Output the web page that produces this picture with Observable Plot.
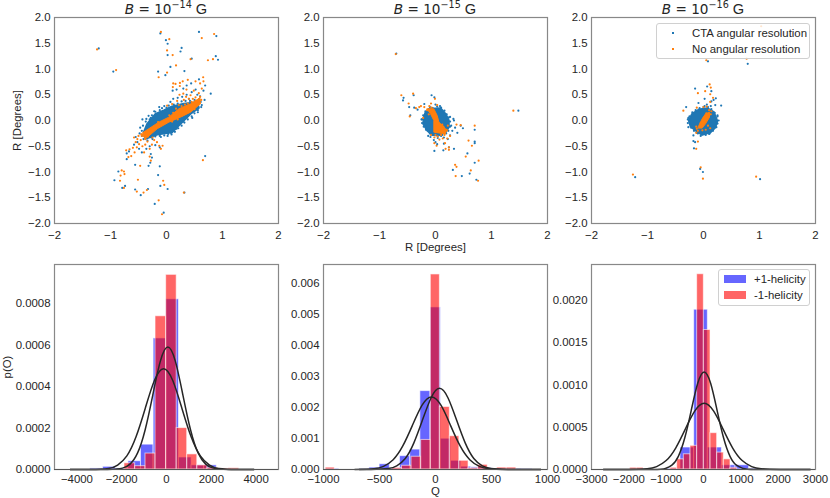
<!DOCTYPE html>
<html>
<head>
<meta charset="utf-8">
<script src="https://cdn.jsdelivr.net/npm/d3@7"></script>
<script src="https://cdn.jsdelivr.net/npm/@observablehq/plot@0.6"></script>
<style>
  body { margin: 0; background: white; font-family: "Liberation Sans", Arial, sans-serif; color: #262626; }
  #page { position: relative; width: 830px; height: 498px; overflow: hidden; }
  #page svg { position: absolute; overflow: visible; background: transparent; }
  .title { position: absolute; top: 0px; width: 224px; text-align: center; font-size: 14.6px; line-height: 18px; white-space: nowrap; }
  .title .m { font-family: "DejaVu Sans"; font-size: 13.6px; }
  .title sup { font-size: 9.6px; line-height: 0; }
  .legend { position: absolute; box-sizing: border-box; background: rgba(255,255,255,0.8); border: 1px solid #d0d0d0; border-radius: 3px; font-size: 11.4px; }
  .legend div { position: absolute; white-space: nowrap; line-height: 14px; }
  .legend span { position: absolute; }
</style>
</head>
<body>
<div id="page"></div>
<script>
// scatter panels: [x, y], dense cores kept as outlines
const ctaCore14 = [[-0.405,-0.227],[-0.345,-0.065],[-0.196,0.13],[-0.048,0.194],[0.1,0.272],[0.31,0.324],[0.548,0.355],[0.578,0.246],[0.43,0.13],[0.25,-0.065],[0.1,-0.227],[-0.167,-0.272],[-0.375,-0.356]];
const noresCore14 = [[-0.435,-0.245],[-0.137,-0.032],[0.042,0.065],[0.22,0.227],[0.43,0.324],[0.596,0.44],[0.607,0.324],[0.43,0.162],[0.25,0.065],[0.042,-0.032],[-0.167,-0.162],[-0.375,-0.356]];
const cta14 = [[-1.21,1.4],[-0.95,0.95],[0.58,1.72],[-0.11,1.69],[-0.01,1.56],[0.02,1.49],[0.02,1.27],[0.27,1.41],[0.25,1.34],[0.45,1.2],[0.89,1.64],[0.88,1.25],[0.92,1.18],[0.07,1.04],[-0.02,0.88],[-0.15,0.95],[0.32,0.96],[0.79,0.52],[0.69,0.68],[0.69,-0.69],[0.32,-1.4],[-0.05,-1.79],[-0.21,-1.62],[0.02,-1.33],[-0.11,-1.27],[-0.33,-1.33],[-0.46,-1.45],[-0.56,-1.34],[-0.74,-1.27],[-0.79,-1.31],[-0.86,-0.99],[-0.93,-1.16],[-0.12,-0.89],[-0.15,-1.06],[-0.56,-0.86],[-0.32,-0.88],[-0.29,-0.82],[-0.26,-0.72],[-0.28,-0.65],[-0.71,-0.75],[-0.71,-0.64],[-0.67,-0.6],[-0.58,-0.47],[-0.52,-0.42],[-0.49,-0.55],[-0.44,-0.62],[-0.36,-0.55],[-0.3,-0.5],[-0.2,-0.48],[-0.12,-0.52],[-0.55,-0.32],[-0.48,-0.25],[-0.28,0.05],[-0.22,0.18],[-0.13,0.26],[-0.04,0.28],[0.07,0.36],[0.12,0.42],[0.2,0.44],[0.28,0.46],[0.36,0.5],[0.45,0.55],[0.52,0.6],[0.58,0.8],[0.44,0.72],[0.36,0.68],[0.3,0.62],[0.18,0.6],[0.11,0.58],[0.6,0.47],[0.63,0.3],[0.56,0.16],[0.46,0.05],[0.39,0.1],[0.3,-0.02],[0.18,-0.16],[0.08,-0.24],[0.02,-0.3],[-0.1,-0.32],[-0.25,-0.36],[0.55,0.5],[0.66,0.58],[0.4,0.42],[-0.43,0.02],[-0.36,0.03],[-0.32,0.09],[-0.47,-0.14],[0.68,0.4],
  [-0.44,-0.2],[-0.42,-0.1],[-0.37,-0.02],[-0.3,0.02],[-0.26,0.1],[-0.2,0.17],[-0.12,0.2],[-0.08,0.24],[0,0.25],[0.04,0.29],[0.13,0.31],[0.2,0.33],[0.27,0.37],[0.34,0.38],[0.42,0.38],[0.5,0.4],[0.58,0.41],[0.61,0.36],[0.62,0.26],[0.56,0.2],[0.5,0.14],[0.45,0.08],[0.38,0.02],[0.32,-0.04],[0.27,-0.1],[0.21,-0.15],[0.15,-0.22],[0.09,-0.27],[0.03,-0.26],[-0.04,-0.29],[-0.12,-0.3],[-0.2,-0.31],[-0.27,-0.33],[-0.34,-0.39],[-0.41,-0.36],[-0.44,-0.3]];
const nores14 = [[-1.24,1.38],[-0.9,0.98],[-0.1,1.72],[0.05,1.58],[0.01,1.36],[0.11,1.27],[0.17,1.07],[0.63,1.6],[0.85,1.68],[0.74,1.17],[0.83,1.19],[0.43,1.19],[0.01,0.93],[-0.14,0.84],[0.65,-0.77],[0.31,-1.4],[-0.08,-1.82],[-0.14,-1.55],[-0.06,-1.17],[-0.04,-1.25],[-0.35,-1.35],[-0.41,-1.4],[-0.53,-1.38],[-0.76,-1.31],[-0.8,-0.97],[-0.76,-0.99],[-0.75,-1.04],[-0.82,-1.07],[-0.83,-1.17],[-0.47,-0.88],[-0.51,-1.15],[0.655,0.84],[0.518,0.76],[0.38,0.79],[0.29,0.76],[0.161,0.71],[0.113,0.65],[0.238,0.67],[0.357,0.6],[0.488,0.58],[0.577,0.53],[0.429,0.49],[0.232,0.5],[0.1,0.32],[0.012,0.29],[0.19,0.38],[0.31,0.4],[0.4,0.42],[0.518,0.45],[0.63,0.62],[0.6,0.72],[0.66,0.76],[0.3,0.52],[0.12,0.72],[0.24,0.73],[-0.68,-0.71],[-0.63,-0.69],[-0.72,-0.58],[-0.66,-0.56],[-0.6,-0.53],[-0.57,-0.62],[-0.53,-0.52],[-0.49,-0.46],[-0.46,-0.38],[-0.52,-0.36],[-0.43,-0.5],[-0.38,-0.47],[-0.34,-0.41],[-0.3,-0.55],[-0.26,-0.47],[-0.22,-0.38],[-0.17,-0.42],[-0.13,-0.49],[-0.1,-0.55],[-0.07,-0.49],[-0.55,-0.42],[-0.44,-0.3],[-0.4,-0.62],[-0.3,-0.7],[-0.28,-0.78],[-0.58,-0.33],[-0.5,-0.3],[0.45,0.36],[0.52,0.38],[0.6,0.46],[0.22,0.3],[0.35,0.46],[-0.25,-0.33],
  [-0.4,-0.3],[-0.36,-0.25],[-0.3,-0.2],[-0.45,-0.27],[-0.38,-0.36],[-0.33,-0.31],[-0.22,-0.12],[-0.15,-0.03],[0.05,0.1],[0.12,0.15],[0.17,0.23],[0.27,0.28],[0.33,0.31],[0.5,0.33],[0.55,0.3],[0.58,0.36],[0.62,0.4],[0.47,0.42],[0.38,0.33],[0.1,-0.02],[0.28,0.1],[0.2,0.02],[0.5,0.22]];

const ctaCore15 = [[-0.208,0.064],[-0.179,0.16],[-0.089,0.227],[0.089,0.24],[0.179,0.13],[0.238,0],[0.238,-0.13],[0.179,-0.227],[0.06,-0.29],[-0.06,-0.28],[-0.149,-0.194],[-0.22,-0.064]];
const noresCore15 = [[-0.149,0.227],[-0.03,0.227],[0.03,0.097],[0.06,-0.03],[0.18,-0.16],[0.18,-0.26],[-0.03,-0.227],[-0.03,0],[-0.089,0.13]];
const cta15 = [[-0.7,1.3],[-0.07,0.49],[-0.02,0.45],[-0.39,0.49],[-0.57,0.44],[-0.58,0.39],[-0.47,0.26],[-0.45,0.1],[-0.38,0.25],[-0.32,0.21],[-0.2,0.32],[1.48,0.19],[0.32,0.03],[0.35,-0.14],[0.45,-0.1],[0.49,-0.15],[0.39,-0.24],[0.7,-0.18],[0.7,-0.41],[0.7,-0.44],[0.57,-0.64],[0.7,-0.82],[0.31,-0.96],[0.47,-1.08],[0.61,-1.03],[0.73,-1.15],[-0.02,-0.59],[0.14,-0.58],[0.24,-0.52],[0.33,-0.55],[0.15,-0.45],[0,-0.42],[-0.09,-0.32],[0.04,-0.34],[0.1,-0.3],[0.15,-0.33],[0.26,-0.29],[0.33,0],[0,0.31],[-0.25,0.02],[-0.1,0.26],[0.28,-0.1],[0.3,-0.2],[0.22,-0.36],[-0.03,-0.38],[0.03,-0.46],[-0.13,-0.3],[0.08,0.28],[0.26,0.07],
  [-0.22,0.1],[-0.18,0.18],[-0.12,0.22],[-0.05,0.24],[0.03,0.27],[0.1,0.25],[0.16,0.19],[0.2,0.12],[0.24,0.06],[0.26,-0.02],[0.26,-0.12],[0.23,-0.2],[0.19,-0.25],[0.12,-0.28],[-0.1,-0.25],[-0.17,-0.18],[-0.21,-0.12],[-0.24,-0.05],[-0.24,0.02]];
const nores15 = [[-0.71,1.29],[-0.61,0.49],[-0.4,0.52],[-0.01,0.42],[-0.48,0.33],[-0.46,0.08],[-0.35,0.24],[-0.29,0.26],[-0.26,0.28],[1.39,0.19],[0.375,-0.08],[0.45,-0.09],[0.7,-0.1],[0.59,-0.39],[0.65,-0.49],[0.54,-0.7],[0.77,-0.78],[0.35,-0.86],[0.375,-0.9],[0.63,-0.97],[0.36,-1.08],[0.76,-1.17],[0.24,-0.57],[0.18,-0.55],[0.02,-0.49],[-0.02,-0.44],[0.17,-0.44],[0.24,-0.52],[0.07,-0.37],[0.13,-0.35],[0.16,-0.28],[0.04,-0.31],[-0.02,-0.33],[-0.08,-0.28],[0.2,-0.2],[0.12,-0.08],[0.26,-0.3],[-0.11,0.28],[-0.07,0.25],[-0.2,0.26],[-0.22,0.05],[-0.08,0.33],[0.03,0.3],[0.15,-0.2],[0.21,-0.35],
  [-0.12,0.2],[-0.06,0.16],[-0.12,0.12],[0,0.1],[-0.15,0.2],[0.03,0.03],[0.02,-0.1],[0.08,-0.22],[0.14,-0.12],[0.2,-0.18],[0.22,-0.1],[0.1,-0.28],[0,-0.28]];

const ctaCore16 = [[-0.262,0],[-0.202,0.13],[-0.083,0.214],[0.065,0.24],[0.185,0.162],[0.244,0],[0.214,-0.13],[0.125,-0.227],[-0.024,-0.28],[-0.143,-0.194],[-0.232,-0.11]];
const noresCore16 = [[-0.083,-0.097],[-0.024,0.032],[0.036,0.13],[0.107,0.162],[0.107,0.064],[0.036,-0.064],[-0.024,-0.148],[-0.096,-0.148]];
const cta16 = [[0.08,1.15],[0.79,1.1],[-0.15,0.62],[0.065,0.66],[0.14,0.57],[0.315,0.29],[-0.31,0.26],[-0.09,0.34],[0.02,0.42],[0.18,0.4],[0.13,0.28],[0.06,0.31],[-0.27,-0.13],[-0.18,-0.29],[-0.18,-0.4],[-0.15,-0.42],[-0.17,-0.54],[-0.06,-0.94],[-0.01,-1],[-1.22,-1.1],[1.01,-1.14],[0.19,-0.13],[0.24,-0.03],[0.25,0.1],[0.21,0.3],[0.22,0.43],[0.14,0.37],[0.02,0.28],[-0.27,0.05],[-0.1,-0.25],[0,-0.26],[0.1,-0.26],[-0.28,-0.05],
  [-0.28,0.02],[-0.25,0.08],[-0.2,0.16],[-0.14,0.2],[-0.07,0.24],[0,0.26],[0.08,0.26],[0.14,0.22],[0.2,0.15],[0.25,0.08],[0.27,0],[0.25,-0.06],[0.23,-0.13],[0.17,-0.2],[0.11,-0.25],[0.04,-0.28],[-0.05,-0.3],[-0.12,-0.24],[-0.17,-0.2],[-0.22,-0.14]];
const nores16 = [[0.05,1.17],[0.77,1.2],[1.03,1.83],[0.11,0.7],[0.13,0.64],[0.03,0.57],[-0.1,0.53],[0.12,0.51],[0.17,0.44],[0.12,0.36],[0.06,0.27],[0,0.26],[-0.36,0.19],[-0.12,0.25],[-0.13,-0.24],[-0.1,-0.41],[-0.13,-0.55],[-0.05,-0.91],[-0.01,-1.13],[-1.26,-1.05],[0.94,-1.09],[-0.1,-0.2],[-0.02,-0.19],[0.04,-0.18],[0.12,-0.15],
  [0.14,0.18],[0.1,0.2],[0.05,0.14],[0,0.04],[-0.05,-0.05],[-0.13,-0.12],[-0.12,-0.16],[0.13,0.12],[0.08,-0.1]];

// histogram bins: edges and heights per panel
const qEdgesPlus14 = [-3400,-2830,-2265,-1700,-1140,-575,-10,555,1120,1680,2245];
const qPlus14 = [0.000005,0.000013,0.000005,0.00004,0.00012,0.000633,0.000822,0.000058,0.00002,0.00002];
const qEdgesMinus14 = [-1875,-1400,-937,-490,-15,455,925,1375,1830,2300,2770,3240];
const qMinus14 = [0.00003,0.000016,0.000077,0.00074,0.00094,0.0002,0.000073,0.00002,0.000008,0.000005,0.000006];

const qEdgesPlus15 = [-980,-860,-681,-590,-499,-408,-317,-226,-135,-44,47,138,229,320,411,502,593,684,775,866];
const qPlus15 = [0.00002,0,0.00001,0.00006,0.00017,0.00003,0.00043,0.00064,0.00252,0.00521,0.00099,0.00028,0.00009,0.00007,0.00005,0.00003,0.00002,0.00002,0.00001];
const qEdgesMinus15 = [-980,-900,-385,-300,-214,-128,-42,39,128,213,295,381,466,551,636,721];
const qMinus15 = [0.00006,0,0.00005,0.00012,0.00041,0.00095,0.00627,0.00201,0.00107,0.00028,0.00004,0.00015,0.00001,0.00006,0.00006];

const qEdgesPlus16 = [-982,-616,-250,116,491,857,1223,1589];
const qPlus16 = [0.00001,0.00026,0.00189,0.00026,0.00005,0.00005,0.00001];
const qEdgesMinus16 = [-1964,-1786,-1607,-884,-705,-527,-348,-170,9,188,366,545,723,902];
const qMinus16 = [0.00002,0.00002,0,0.00002,0.00012,0.00018,0.00028,0.00231,0.00165,0.00043,0.0002,0.00012,0.00002];

// black curves, read as [Q, p] along each line
const curveA14 = [[-4300,0],[-2640,0.0000002],[-1965,0.0000066],[-1627,0.000026],[-1290,0.00008],[-952,0.000192],[-615,0.000358],[-277,0.000522],[60,0.000591],[397,0.000522],[735,0.000358],[1072,0.000192],[1410,0.00008],[1747,0.000026],[2085,0.0000066],[2760,0.0000002],[3900,0]];
const curveB14 = [[-4300,0],[-3410,0.00000015],[-2590,0.0000054],[-2180,0.0000214],[-1770,0.000066],[-1360,0.000158],[-950,0.000295],[-540,0.00043],[-130,0.000487],[280,0.00043],[690,0.000295],[1100,0.000158],[1510,0.000066],[1920,0.0000214],[2330,0.0000054],[3150,0.00000015],[3900,0]];
const curveA15 = [[-680,0],[-576,0.0000008],[-423,0.000029],[-346,0.000115],[-270,0.000353],[-194,0.000847],[-117,0.00158],[-40,0.0023],[36,0.00261],[112,0.0023],[189,0.00158],[266,0.000847],[342,0.000353],[418,0.000115],[495,0.000029],[648,0.0000008],[940,0]];
const curveB15 = [[-720,0.0000007],[-549,0.000026],[-464,0.000102],[-378,0.000315],[-292,0.000757],[-207,0.00141],[-121,0.00206],[-36,0.00233],[50,0.00206],[135,0.00141],[220,0.000757],[306,0.000315],[392,0.000102],[477,0.000026],[648,0.0000007],[940,0]];
const curveA16 = [[-2680,0],[-1366,0.0000004],[-1020,0.0000128],[-847,0.0000507],[-674,0.000156],[-501,0.000375],[-328,0.0007],[-155,0.00102],[18,0.001154],[191,0.00102],[364,0.0007],[537,0.000375],[710,0.000156],[883,0.0000507],[1056,0.0000128],[1402,0.0000004],[2860,0]];
const curveB16 = [[-2680,0],[-2018,0.0000002],[-1509,0.0000087],[-1255,0.0000344],[-1000,0.000106],[-745,0.000254],[-491,0.000475],[-236,0.00069],[18,0.000783],[273,0.00069],[527,0.000475],[782,0.000254],[1036,0.000106],[1291,0.0000344],[1545,0.0000087],[2054,0.0000002],[2860,0]];

const rTicks = [-2,-1,0,1,2];
const rTicksY = [-2,-1.5,-1,-0.5,0,0.5,1,1.5,2];
const blue = "#1f77b4", orange = "#ff7f0e", frame = "#888888", ink = "#262626";

const page = document.querySelector("#page");

function place(svg, left, top) {
  svg.style.left = left + "px";
  svg.style.top = top + "px";
  page.append(svg);
}

function axisStyle() {
  return { fontFamily: "Liberation Sans", fontSize: "11.4px", color: ink, background: "transparent" };
}

function scatter(left, marginLeft, exp, ctaCore, noresCore, cta, nores, xlabel, ylabel) {
  const svg = Plot.plot({
    width: marginLeft + 224 + 16,
    height: 253,
    marginLeft,
    marginRight: 16,
    marginTop: 17,
    marginBottom: 30,
    style: axisStyle(),
    x: { domain: [-2, 2] },
    y: { domain: [-2, 2] },
    marks: [
      Plot.line(ctaCore, { x: "0", y: "1", fill: blue, stroke: blue, strokeWidth: 2, curve: "linear-closed" }),
      Plot.dot(cta, { x: "0", y: "1", r: 1.1, fill: blue }),
      Plot.line(noresCore, { x: "0", y: "1", fill: orange, stroke: orange, strokeWidth: 1, curve: "linear-closed" }),
      Plot.dot(nores, { x: "0", y: "1", r: 1.1, fill: orange }),
      Plot.frame({ stroke: frame, strokeWidth: 1.2 }),
      Plot.axisX({ ticks: rTicks, tickSize: 0, tickPadding: 7, tickFormat: d3.format("d"), label: xlabel, labelAnchor: "center", labelArrow: "none", labelOffset: 27 }),
      Plot.axisY({ ticks: rTicksY, tickSize: 0, tickPadding: 4, tickFormat: d3.format(".1f"), label: ylabel, labelAnchor: "center", labelArrow: "none", labelOffset: 42 })
    ]
  });
  place(svg, left, 0);
  const title = document.createElement("div");
  title.className = "title";
  title.style.left = left + marginLeft + "px";
  title.innerHTML = `<span class="m"><i>B</i> = 10<sup>−${exp}</sup></span> G`;
  page.append(title);
}

function bins(edges, values) {
  return values.map((v, i) => ({ x1: edges[i], x2: edges[i + 1], y: v })).filter((d) => d.y > 0);
}

function hist(left, marginLeft, xmax, ymax, yticks, yformat, xticks, plus, minus, curveA, curveB, xlabel, ylabel) {
  const bar = { x1: "x1", x2: "x2", y: "y", fillOpacity: 0.6, stroke: "white", strokeOpacity: 0.6, strokeWidth: 1, insetLeft: 0, insetRight: 0 };
  const svg = Plot.plot({
    width: marginLeft + 224 + 16,
    height: 248,
    marginLeft,
    marginRight: 16,
    marginTop: 14,
    marginBottom: 29,
    style: axisStyle(),
    x: { domain: [-xmax, xmax] },
    y: { domain: [0, ymax] },
    marks: [
      Plot.rectY(plus, { ...bar, fill: "blue" }),
      Plot.rectY(minus, { ...bar, fill: "red" }),
      Plot.line(curveA, { x: "0", y: "1", stroke: ink, strokeWidth: 1.5, curve: "natural" }),
      Plot.line(curveB, { x: "0", y: "1", stroke: ink, strokeWidth: 1.5, curve: "natural" }),
      Plot.frame({ stroke: frame, strokeWidth: 1.2 }),
      Plot.ruleY([0], { stroke: "#555555", strokeWidth: 1.2 }),
      Plot.axisX({ ticks: xticks, tickSize: 0, tickPadding: 5, tickFormat: d3.format("d"), label: xlabel, labelAnchor: "center", labelArrow: "none", labelOffset: 25 }),
      Plot.axisY({ ticks: yticks, tickSize: 0, tickPadding: 4, tickFormat: d3.format(yformat), label: ylabel, labelAnchor: "center", labelArrow: "none", labelOffset: 52 })
    ]
  });
  place(svg, left, 250);
}

scatter(0, 54, 14, ctaCore14, noresCore14, cta14, nores14, null, "R [Degrees]");
scatter(270, 53, 15, ctaCore15, noresCore15, cta15, nores15, "R [Degrees]", null);
scatter(540, 51, 16, ctaCore16, noresCore16, cta16, nores16, null, null);

hist(0, 54, 5000, 0.00099, [0, 0.0002, 0.0004, 0.0006, 0.0008], ".4f", [-4000, -2000, 0, 2000, 4000],
  bins(qEdgesPlus14, qPlus14), bins(qEdgesMinus14, qMinus14), curveA14, curveB14, null, "p(O)");
hist(270, 53, 1000, 0.00659, [0, 0.001, 0.002, 0.003, 0.004, 0.005, 0.006], ".3f", [-1000, -500, 0, 500, 1000],
  bins(qEdgesPlus15, qPlus15), bins(qEdgesMinus15, qMinus15), curveA15, curveB15, "Q", null);
hist(540, 51, 3000, 0.002425, [0, 0.0005, 0.001, 0.0015, 0.002], ".4f", [-3000, -2000, -1000, 0, 1000, 2000, 3000],
  bins(qEdgesPlus16, qPlus16), bins(qEdgesMinus16, qMinus16), curveA16, curveB16, null, null);

// legends
const scatterLegend = document.createElement("div");
scatterLegend.className = "legend";
scatterLegend.style.cssText = "left:656px;top:23px;width:154px;height:36px";
scatterLegend.innerHTML = `
  <span style="left:15px;top:8px;width:2px;height:2px;background:${blue}"></span><div style="left:35px;top:2px">CTA angular resolution</div>
  <span style="left:15px;top:24px;width:2px;height:2px;background:${orange}"></span><div style="left:35px;top:18px">No angular resolution</div>`;
page.append(scatterLegend);

const histLegend = document.createElement("div");
histLegend.className = "legend";
histLegend.style.cssText = "left:718px;top:269px;width:92px;height:37px";
histLegend.innerHTML = `
  <span style="left:5px;top:5px;width:22px;height:8px;background:rgba(0,0,255,0.6)"></span><div style="left:35px;top:2px">+1-helicity</div>
  <span style="left:5px;top:21px;width:22px;height:8px;background:rgba(255,0,0,0.6)"></span><div style="left:35px;top:18px">-1-helicity</div>`;
page.append(histLegend);
</script>
</body>
</html>
